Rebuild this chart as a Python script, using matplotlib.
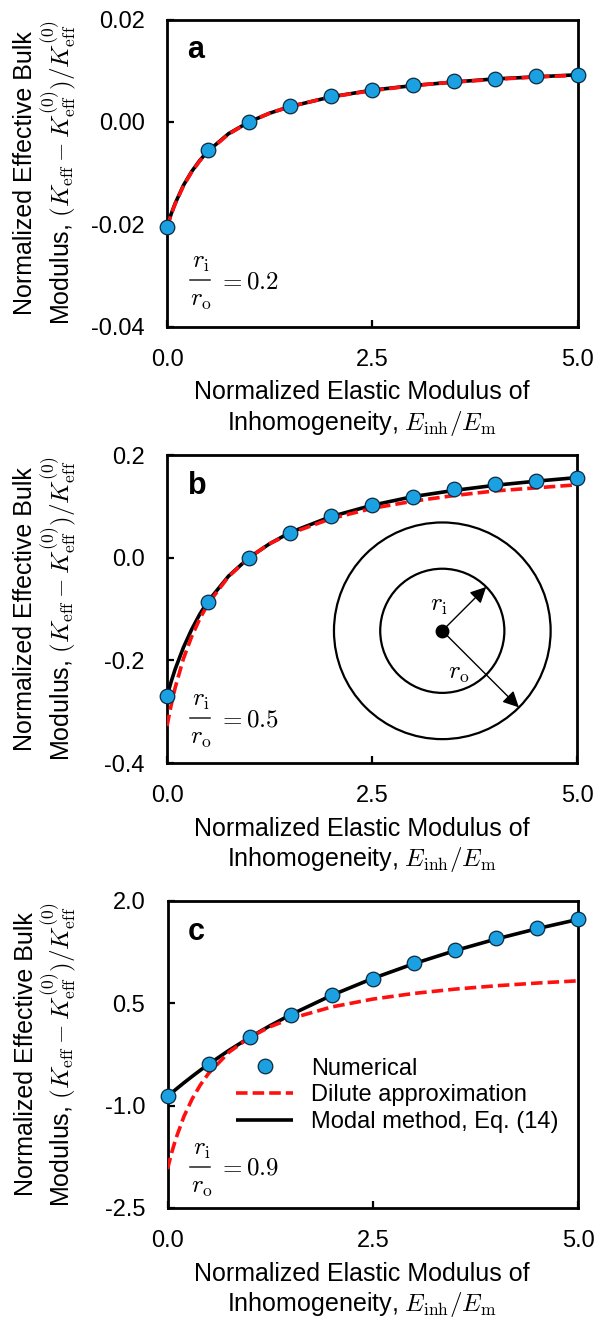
import matplotlib
matplotlib.use("Agg")
import matplotlib.pyplot as plt
from matplotlib.patches import Circle
from matplotlib.ticker import FormatStrFormatter
from matplotlib.transforms import offset_copy

plt.rcParams['font.family'] = ['Liberation Sans', 'DejaVu Sans']
plt.rcParams['mathtext.fontset'] = 'cm'
plt.rcParams['axes.unicode_minus'] = False

# ---------------- data ----------------
x_num = [0.0, 0.5, 1.0, 1.5, 2.0, 2.5, 3.0, 3.5, 4.0, 4.5, 5.0]
x_line = [0.0, 0.05, 0.1, 0.2, 0.3, 0.4, 0.5, 0.75, 1.0, 1.25, 1.5,
          2.0, 2.5, 3.0, 3.5, 4.0, 4.5, 5.0]

# panel a : r_i/r_o = 0.2
num_a = [-0.0205, -0.0055, 0.0000, 0.0031, 0.0051, 0.0062, 0.0072,
         0.0079, 0.0084, 0.0089, 0.0092]
dil_a = [-0.0206, -0.0181, -0.0160, -0.0125, -0.0098, -0.0076, -0.0058,
         -0.0024, 0.0000, 0.0017, 0.0030, 0.0049, 0.0061, 0.0071, 0.0078,
         0.0083, 0.0088, 0.0091]
mod_a = [-0.0205, -0.0180, -0.0159, -0.0124, -0.0097, -0.0075, -0.0057,
         -0.0023, 0.0000, 0.0017, 0.0030, 0.0049, 0.0062, 0.0071, 0.0078,
         0.0084, 0.0088, 0.0092]

# panel b : r_i/r_o = 0.5
num_b = [-0.269, -0.086, 0.000, 0.048, 0.082, 0.102, 0.119, 0.133,
         0.143, 0.150, 0.156]
dil_b = [-0.328, -0.288, -0.253, -0.197, -0.154, -0.119, -0.090, -0.037,
         0.000, 0.027, 0.047, 0.076, 0.096, 0.110, 0.121, 0.130, 0.136,
         0.142]
mod_b = [-0.270, -0.242, -0.217, -0.175, -0.140, -0.110, -0.085, -0.036,
         0.000, 0.027, 0.049, 0.080, 0.102, 0.119, 0.131, 0.141, 0.149,
         0.156]

# panel c : r_i/r_o = 0.9
num_c = [-0.864, -0.393, 0.000, 0.335, 0.616, 0.860, 1.087, 1.280,
         1.456, 1.610, 1.730]
dil_c = [-1.930, -1.693, -1.490, -1.159, -0.902, -0.696, -0.527, -0.215,
         0.000, 0.157, 0.276, 0.447, 0.562, 0.645, 0.708, 0.757, 0.797,
         0.830]
mod_c = [-0.864, -0.813, -0.763, -0.665, -0.571, -0.480, -0.393, -0.188,
         0.000, 0.173, 0.333, 0.618, 0.865, 1.081, 1.272, 1.442, 1.594,
         1.730]

panel_letters = ['a', 'b', 'c']
ratios = ['0.2', '0.5', '0.9']
ylims = [(-0.04, 0.02), (-0.4, 0.2), (-2.5, 2.0)]
yticks = [[-0.04, -0.02, 0.00, 0.02], [-0.4, -0.2, 0.0, 0.2],
          [-2.5, -1.0, 0.5, 2.0]]
yfmt = ['%.2f', '%.1f', '%.1f']
xticks = [0.0, 2.5, 5.0]

numericals = [num_a, num_b, num_c]
dilutes = [dil_a, dil_b, dil_c]
modals = [mod_a, mod_b, mod_c]

legend_labels = ['Numerical', 'Dilute approximation', 'Modal method, Eq. (14)']

# ---------------- styling ----------------
W, H = 596, 1325
fig = plt.figure(figsize=(W / 100, H / 100), dpi=100)

blue = '#1BA1E2'
red = '#FF1010'
tick_fs = 17
lab_fs = 18

# axes boxes in pixels (left, top, right, bottom)
boxes = [(167, 19.5, 577.5, 326.7), (167, 455, 577, 763),
         (167.5, 901, 578, 1208)]
bar_y = [0.152, 0.145, 0.1345]
bar_x = 0.080

xlabel = 'Normalized Elastic Modulus of\nInhomogeneity, $E_{\\mathrm{inh}}/E_{\\mathrm{m}}$'
ylabel = ('Normalized Effective Bulk\nModulus, $(K_{\\mathrm{eff}}-K_{\\mathrm{eff}}^{(0)})'
          '/K_{\\mathrm{eff}}^{(0)}$')

axes = []
for i in range(3):
    l, t, r, b = boxes[i]
    ax = fig.add_axes([l / W, 1 - b / H, (r - l) / W, (b - t) / H])
    axes.append(ax)

    ln_m, = ax.plot(x_line, modals[i], color='black', lw=2.6, zorder=3,
                    solid_capstyle='butt')
    ln_d, = ax.plot(x_line, dilutes[i], color=red, lw=2.6, zorder=4,
                    dashes=(3.2, 1.4), dash_capstyle='butt')
    ln_n, = ax.plot(x_num, numericals[i], linestyle='none', marker='o',
                    ms=10.5, mfc=blue, mec='#0B2A40', mew=0.9, zorder=5,
                    clip_on=False)

    ax.set_xlim(0, 5)
    ax.set_ylim(*ylims[i])
    ax.set_xticks(xticks)
    ax.set_yticks(yticks[i])
    ax.xaxis.set_major_formatter(FormatStrFormatter('%.1f'))
    ax.yaxis.set_major_formatter(FormatStrFormatter(yfmt[i]))
    ax.tick_params(direction='in', length=5, width=1.6, labelsize=tick_fs,
                   pad=16)
    ax.tick_params(axis='y', pad=16)
    for sp in ax.spines.values():
        sp.set_linewidth(2.0)

    ax.set_xlabel(xlabel, fontsize=lab_fs, linespacing=1.2)
    ax.xaxis.set_label_coords(0.474, -0.175)
    ax.set_ylabel(ylabel, fontsize=lab_fs, linespacing=1.05)
    ax.yaxis.set_label_coords(-0.218, 0.5)

    ax.text(0.05, 0.874, panel_letters[i], transform=ax.transAxes,
            fontsize=22, fontweight='bold', ha='left', va='baseline')

    # ratio r_i / r_o written as a stacked fraction
    ax.plot([bar_x - 0.024, bar_x + 0.024], [bar_y[i], bar_y[i]],
            transform=ax.transAxes, color='#222222', lw=1.1, clip_on=False)
    ax.text(bar_x, bar_y[i], '$r_{\\mathrm{i}}$', fontsize=18,
            ha='center', va='center',
            transform=offset_copy(ax.transAxes, fig, x=1, y=18, units='dots'))
    ax.text(bar_x, bar_y[i], '$r_{\\mathrm{o}}$', fontsize=18,
            ha='center', va='center',
            transform=offset_copy(ax.transAxes, fig, x=1, y=-20, units='dots'))
    ax.text(bar_x, bar_y[i], '$= ' + ratios[i] + '$', fontsize=18,
            ha='left', va='center',
            transform=offset_copy(ax.transAxes, fig, x=18, y=-1, units='dots'))

    if i == 2:
        ax.legend([ln_n, ln_d, ln_m], legend_labels, loc='upper left',
                  bbox_to_anchor=(0.168, 0.49), frameon=False, fontsize=17,
                  handlelength=2.4, handletextpad=0.75, labelspacing=0.2,
                  borderpad=0, borderaxespad=0, numpoints=1)

# ---------------- inset sketch in panel b ----------------
cx, cy, R = 442.3, 630.8, 108.5
ins = fig.add_axes([(cx - R - 2) / W, 1 - (cy + R + 2) / H,
                    (2 * R + 4) / W, (2 * R + 4) / H])
ins.set_xlim(-1.02, 1.02)
ins.set_ylim(-1.02, 1.02)
ins.set_aspect('equal')
ins.axis('off')
ins.add_patch(Circle((0, 0), 1.0, fill=False, lw=1.6, ec='black'))
ins.add_patch(Circle((0, 0), 0.573, fill=False, lw=1.6, ec='black'))
ins.plot([0], [0], marker='o', ms=9, color='black')
ins.annotate('', xy=(0.405, 0.405), xytext=(0, 0),
             arrowprops=dict(arrowstyle='-|>', color='black', lw=1.0,
                             mutation_scale=24, shrinkA=0, shrinkB=0))
ins.annotate('', xy=(0.707, -0.707), xytext=(0, 0),
             arrowprops=dict(arrowstyle='-|>', color='black', lw=1.0,
                             mutation_scale=24, shrinkA=0, shrinkB=0))
ins.text(-0.03, 0.24, '$r_{\\mathrm{i}}$', fontsize=18, ha='center',
         va='center')
ins.text(0.15, -0.39, '$r_{\\mathrm{o}}$', fontsize=18, ha='center',
         va='center')

fig.savefig('out.png', dpi=100)
